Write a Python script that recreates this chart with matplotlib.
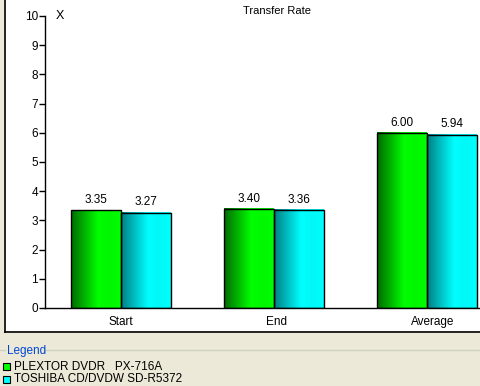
import numpy as np
import matplotlib
matplotlib.use("Agg")
import matplotlib.pyplot as plt
from matplotlib.patches import Rectangle
from matplotlib.lines import Line2D

categories = ["Start", "End", "Average"]
drives = ["PLEXTOR DVDR   PX-716A", "TOSHIBA CD/DVDW SD-R5372"]
plextor = [3.35, 3.40, 6.00]
toshiba = [3.27, 3.36, 5.94]
y_ticks = list(range(0, 11))

W, H = 481, 386
plt.rcParams["font.family"] = ["Liberation Sans", "DejaVu Sans"]
plt.rcParams["font.size"] = 8.5

fig = plt.figure(figsize=(W / 100, H / 100), dpi=100, facecolor="#ECE9D8")


def fx(px):
    return px / W


def fy(py):
    return 1 - py / H


# white chart panel with sunken border
fig.patches.append(Rectangle((fx(5), fy(331)), 1 - fx(5), fy(0) - fy(331),
                             transform=fig.transFigure, facecolor="white",
                             edgecolor="none", zorder=-10))
fig.lines.append(Line2D([fx(4.5), fx(4.5)], [fy(331.5), 1], transform=fig.transFigure,
                        color="black", lw=1.2))
fig.lines.append(Line2D([fx(4.5), 1], [fy(331.5), fy(331.5)], transform=fig.transFigure,
                        color="black", lw=1.2))

ax = fig.add_axes([fx(45), fy(308), 1 - fx(45), fy(16) - fy(308)])
ax.set_facecolor("white")
ax.set_zorder(1)
for s in ["top", "right"]:
    ax.spines[s].set_visible(False)
for s in ["left", "bottom"]:
    ax.spines[s].set_linewidth(1.0)
    ax.spines[s].set_color("black")
ax.set_yticks(y_ticks)
ax.tick_params(axis="y", length=4, width=1, pad=1, labelsize=8.5)
x = np.arange(len(categories))
ax.set_xticks(x + 0.02 * x)
ax.set_xticklabels(categories)
ax.tick_params(axis="x", length=0, pad=6, labelsize=8.5)

w = 0.327


def gradient(dark, bright):
    t = np.linspace(0, 1, 64)
    k = np.clip(t / 0.55, 0, 1)
    k = np.where(t > 0.55, 1.0 - 0.05 * np.sin((t - 0.55) / 0.45 * np.pi), k)
    d = np.array(dark)
    b = np.array(bright)
    return (d[None, :] + (b - d)[None, :] * k[:, None])[None, :, :]


styles = [((0.0, 0.42, 0.0), (0.0, 1.0, 0.0)),
          ((0.0, 0.50, 0.52), (0.0, 1.0, 1.0))]

for i, (vals, (dark, bright)) in enumerate(zip([plextor, toshiba], styles)):
    offs = x + (i - 0.5) * w
    bars = ax.bar(offs, vals, width=w, facecolor="none", edgecolor="black",
                  linewidth=1.0, zorder=3)
    img = gradient(dark, bright)
    for b, v in zip(bars, vals):
        x0 = b.get_x()
        ax.imshow(img, extent=[x0, x0 + b.get_width(), 0, v], aspect="auto",
                  zorder=2, interpolation="bilinear")
        ax.annotate(f"{v:.2f}", (x0 + b.get_width() / 2, v), xytext=(0, 3),
                    textcoords="offset points", ha="center", va="bottom", fontsize=8.5)
ax.set_xlim(-0.497, 2.356)
ax.set_ylim(0, 10)

ax.text(0.025, 1.0, "X", transform=ax.transAxes, ha="left", va="center", fontsize=9)
fig.text(fx(277), fy(11), "Transfer Rate", ha="center", va="center", fontsize=8)

# legend group box
fig.lines.append(Line2D([fx(0), fx(5)], [fy(349.5), fy(349.5)], transform=fig.transFigure,
                        color="#D0D0BF", lw=1))
fig.lines.append(Line2D([fx(44), 1], [fy(349.5), fy(349.5)], transform=fig.transFigure,
                        color="#D0D0BF", lw=1))
fig.text(fx(7), fy(351), "Legend", color="#0046D5", ha="left", va="center", fontsize=8.5)
for j, (name, (dark, bright)) in enumerate(zip(drives, styles)):
    yc = 366.5 + 13 * j
    fig.patches.append(Rectangle((fx(3), fy(yc + 3.5)), fx(7), fy(0) - fy(7),
                                 transform=fig.transFigure, facecolor=bright,
                                 edgecolor="black", lw=0.8))
    fig.text(fx(14), fy(yc), name, ha="left", va="center", fontsize=8.5)

fig.savefig("out.png", dpi=100, facecolor=fig.get_facecolor())
